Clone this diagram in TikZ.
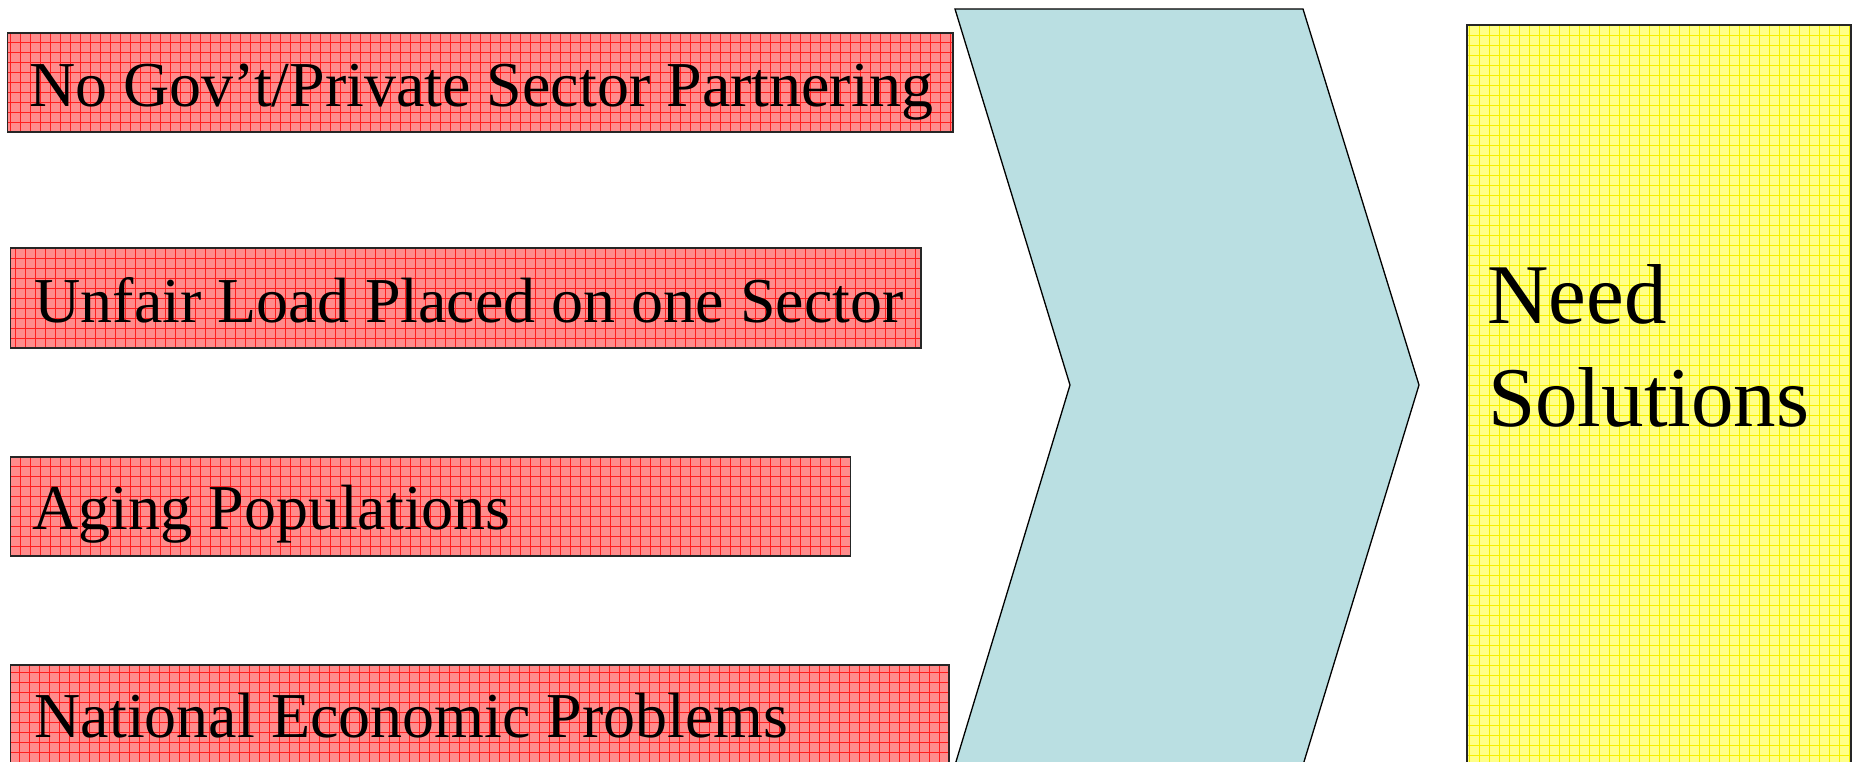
\documentclass[tikz,border=0pt]{standalone}
\usepackage{fontspec}
\setmainfont{Liberation Serif}
\usetikzlibrary{calc}

\definecolor{causefill}{RGB}{255,140,140}
\definecolor{causegrid}{RGB}{255,30,30}
\definecolor{goalfill}{RGB}{255,255,135}
\definecolor{goalgrid}{RGB}{245,240,0}
\definecolor{arrowfill}{RGB}{186,223,226}

\begin{document}
\begin{tikzpicture}[x=1pt, y=-1pt,
  gridfill/.style={path picture={
      \draw[#1, line width=0.75pt, step=10pt, shift={(8,4)}]
        ($(path picture bounding box.south west)+(-20,20)$) grid
        ($(path picture bounding box.north east)+(20,-20)$);}},
  cause/.style={rectangle, anchor=north west, inner sep=0pt, outer sep=0pt,
      draw=black!85, line width=1.6pt, fill=causefill, gridfill=causegrid},
  goal/.style={rectangle, anchor=north west, inner sep=0pt, outer sep=0pt,
      draw=black!85, line width=1.6pt, fill=goalfill, gridfill=goalgrid},
  causetext/.style={anchor=base west, inner sep=0pt,
      font=\fontsize{64pt}{77pt}\selectfont},
  goaltext/.style={anchor=base west, inner sep=0pt,
      font=\fontsize{85pt}{103pt}\selectfont},
  chevron/.style={draw=black, line width=1.3pt, fill=arrowfill, line join=miter}]

  \useasboundingbox (0,0) rectangle (1856,761);

  % causes on the left
  \node[cause, minimum width=945.7pt, minimum height=99pt] (c1) at (7.3,33) {};
  \node[cause, minimum width=910.6pt, minimum height=100pt] (c2) at (10.4,248) {};
  \node[cause, minimum width=840pt,   minimum height=99pt] (c3) at (10.4,457) {};
  \node[cause, minimum width=938.6pt, minimum height=115pt] (c4) at (10.4,665) {};

  \node[causetext] (t1) at ($(c1.north west)+(22,73)$) {No Gov’t/Private Sector Partnering};
  \node[causetext] (t2) at ($(c2.north west)+(24,74)$) {Unfair Load Placed on one Sector};
  \node[causetext] (t3) at ($(c3.north west)+(22,72)$) {Aging Populations};
  \node[causetext] (t4) at ($(c4.north west)+(24,72)$) {National Economic Problems};

  % the big chevron
  \filldraw[chevron] (955,9) -- (1303,9) -- (1419,385) -- (1303,765)
      -- (955,765) -- (1070,385) -- cycle;

  % outcome on the right
  \node[goal, minimum width=384pt, minimum height=760pt] (g) at (1467,25) {};
  \node[goaltext] (need) at ($(g.north west)+(20,298)$) {Need};
  \node[goaltext] (sol)  at ($(g.north west)+(21,401)$) {Solutions};
\end{tikzpicture}
\end{document}
